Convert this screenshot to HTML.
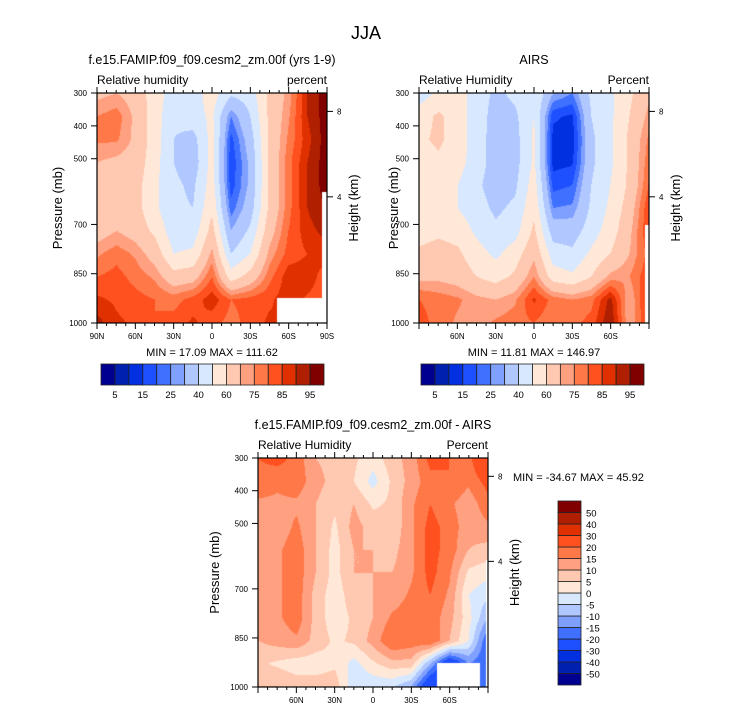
<!DOCTYPE html>
<html><head><meta charset="utf-8">
<style>
body{margin:0;background:#fff;}
#wrap{position:relative;width:733px;height:712px;overflow:hidden;font-family:"Liberation Sans",sans-serif;}
canvas{position:absolute;}
svg{position:absolute;left:0;top:0;}
</style></head>
<body>
<div id="wrap">
<canvas id="c1"></canvas>
<canvas id="c2"></canvas>
<canvas id="c3"></canvas>
<svg id="ov" width="733" height="712"></svg>
</div>
<script>
const palette=['#000090','#0020b0','#0030e0','#1e50ff','#4070ff','#80a0ff','#b0c8ff','#d8e8ff','#ffe8d8','#ffc8b0','#ffa080','#ff7848','#ff5020','#e03000','#b02000','#800000'];
const rhLevels=[5,10,15,20,25,30,40,50,60,70,75,80,85,90,95];
const diffLevels=[-50,-40,-30,-20,-15,-10,-5,0,5,10,15,20,30,40,50];
const rhLabels=['5','15','25','40','60','75','85','95'];
const diffLabels=['-50','-40','-30','-20','-15','-10','-5','0','5','10','15','20','30','40','50'];
const latTicks=[90,60,30,0,-30,-60,-90];
const latLabels1=['90N','60N','30N','0','30S','60S','90S'];
const latLabels2=['','60N','30N','0','30S','60S',''];
const presTicks=[300,400,500,700,850,1000];
const heightTicks=[8,4];
const heightPres=[356,616];
// rows: 300mb (top) -> 1000mb (bottom); cols: 90N -> 90S every 15 deg
const modelRH=[
[68,70,66,55,45,45,55,42,45,62,72,90,98],
[75,78,68,55,42,46,52,25,40,62,74,90,98],
[76,76,68,55,40,36,54,18,35,62,76,88,98],
[70,68,66,54,40,34,54,16,32,62,78,90,98],
[66,66,64,52,42,38,55,17,32,62,78,90,98],
[64,66,64,52,42,40,58,22,35,62,78,90,96],
[66,70,66,58,44,44,64,30,42,66,80,88,92],
[74,78,74,66,50,52,72,40,50,72,82,85,88],
[80,82,78,74,64,66,80,55,64,78,88,88,82],
[86,84,82,80,78,82,88,80,82,84,88,84,82],
[92,86,84,80,82,86,82,78,82,86,84,82,82]];
const airsRH=[
[45,52,55,45,38,42,50,30,25,42,48,58,68],
[55,62,55,45,36,38,50,16,14,40,48,60,72],
[58,62,55,45,35,36,52,13,12,38,48,62,76],
[55,58,54,45,35,36,52,13,14,38,48,62,78],
[52,54,50,42,35,38,55,18,20,40,50,62,80],
[52,54,50,44,38,42,58,25,26,42,52,65,84],
[56,58,56,48,42,46,62,35,35,45,55,68,85],
[62,64,62,54,48,55,68,45,42,52,60,70,82],
[68,68,66,60,56,62,75,55,52,60,72,75,84],
[80,78,76,72,70,74,86,78,75,78,92,70,88],
[82,78,74,72,76,78,80,76,78,82,95,70,86]];
const diffRH=[
[20,22,18,10,8,6,2,8,12,22,20,18,30],
[18,16,18,12,8,5,-2,6,12,18,20,16,22],
[14,14,14,10,6,10,4,6,14,20,16,12,18],
[12,12,16,10,4,12,8,6,14,22,18,12,14],
[10,14,18,10,3,10,10,8,14,22,18,10,8],
[10,14,18,10,3,10,10,10,14,22,16,4,2],
[10,14,18,8,2,8,10,12,16,20,14,0,-4],
[10,14,18,8,2,6,10,16,18,18,12,2,-10],
[10,12,14,8,4,6,12,20,18,20,10,0,-20],
[6,4,2,2,4,-2,4,8,8,-10,-30,-15,-20],
[10,10,8,8,8,-4,-4,-4,-10,-30,-30,-20,-20]];

const NS='http://www.w3.org/2000/svg';
const ov=document.getElementById('ov');
function el(tag,attrs,name,txt){const e=document.createElementNS(NS,tag);for(const k in attrs)e.setAttribute(k,attrs[k]);


if(txt!==undefined)e.textContent=txt;ov.appendChild(e);return e;}
function levelIndex(v,lev){let i=0;while(i<lev.length&&v>=lev[i])i++;return i;}
function hexRGB(h){return [parseInt(h.substr(1,2),16),parseInt(h.substr(3,2),16),parseInt(h.substr(5,2),16)];}
const pal=palette.map(hexRGB);

function panel(id,P,grid,lev,missing){
  const cv=document.getElementById(id);cv.width=P.w;cv.height=P.h;cv.style.left=P.x+'px';cv.style.top=P.y+'px';
  const ctx=cv.getContext('2d');const img=ctx.createImageData(P.w,P.h);
  const nr=grid.length,nc=grid[0].length;
  for(let py=0;py<P.h;py++){const v=py/(P.h-1)*(nr-1);const r0=Math.min(Math.floor(v),nr-2),fv=v-r0;
    for(let px=0;px<P.w;px++){const u=px/(P.w-1)*(nc-1);const c0=Math.min(Math.floor(u),nc-2),fu=u-c0;
      const val=grid[r0][c0]*(1-fu)*(1-fv)+grid[r0][c0+1]*fu*(1-fv)+grid[r0+1][c0]*(1-fu)*fv+grid[r0+1][c0+1]*fu*fv;
      const col=pal[levelIndex(val,lev)];const k=(py*P.w+px)*4;img.data[k]=col[0];img.data[k+1]=col[1];img.data[k+2]=col[2];img.data[k+3]=255;}}
  ctx.putImageData(img,0,0);
  ctx.fillStyle='#fff';missing.forEach(m=>ctx.fillRect(m[0]-P.x,m[1]-P.y,m[2],m[3]));
}
function axes(P,labels,pfx,ylabX,hlabX){
  const xs=lat=>P.x+(90-lat)/180*P.w;
  const ys=p=>P.y+(p-300)/700*P.h;
  el('rect',{x:P.x,y:P.y,width:P.w,height:P.h,fill:'none',stroke:'#000','stroke-width':1.2},pfx+'-plot-frame');
  for(let lat=90;lat>=-90;lat-=7.5){const maj=lat%30===0;const x=xs(lat);
    el('line',{x1:x,x2:x,y1:P.y,y2:P.y-(maj?6:3),stroke:'#000'},pfx+'-top-tick');
    el('line',{x1:x,x2:x,y1:P.y+P.h,y2:P.y+P.h+(maj?6:3),stroke:'#000'},pfx+'-bottom-tick');}
  latTicks.forEach((lat,i)=>{if(labels[i])el('text',{x:xs(lat),y:P.y+P.h+16,'font-size':8,'text-anchor':'middle'},pfx+'-x-tick-label',labels[i]);});
  presTicks.forEach(p=>{const y=ys(p);el('line',{x1:P.x-6,x2:P.x,y1:y,y2:y,stroke:'#000'},pfx+'-y-tick');
    el('text',{x:P.x-10,y:y+3,'font-size':8,'text-anchor':'end'},pfx+'-y-tick-label',p);});
  heightTicks.forEach((h,i)=>{const y=ys(heightPres[i]);el('line',{x1:P.x+P.w,x2:P.x+P.w+6,y1:y,y2:y,stroke:'#000'},pfx+'-height-tick');
    el('text',{x:P.x+P.w+10,y:y+3,'font-size':8},pfx+'-height-tick-label',h);});
  const cy=P.y+P.h/2;
  el('text',{x:ylabX,y:cy,'font-size':13,'text-anchor':'middle',transform:`rotate(-90 ${ylabX} ${cy})`},pfx+'-y-axis-title','Pressure (mb)');
  el('text',{x:hlabX,y:cy,'font-size':13,'text-anchor':'middle',transform:`rotate(-90 ${hlabX} ${cy})`},pfx+'-height-axis-title','Height (km)');
}
const P1={x:97,y:93,w:230,h:230},P2={x:419,y:93,w:230,h:230},P3={x:258,y:458,w:230,h:229};
panel('c1',P1,modelRH,rhLevels,[[277,298,50,25],[322,192,5,131]]);
panel('c2',P2,airsRH,rhLevels,[[645,225,4,98]]);
panel('c3',P3,diffRH,diffLevels,[[437,663,43,24],[486,560,2,127]]);
axes(P1,latLabels1,'model',62,358);
axes(P2,latLabels2,'airs',398,680);
axes(P3,latLabels2,'diff',219,519);

el('text',{x:366,y:39,'font-size':18,'text-anchor':'middle'},'figure-title','JJA');
el('text',{x:212,y:64,'font-size':12.5,'text-anchor':'middle'},'model-panel-title','f.e15.FAMIP.f09_f09.cesm2_zm.00f (yrs 1-9)');
el('text',{x:97,y:84,'font-size':12},'model-variable-label','Relative humidity');
el('text',{x:327,y:84,'font-size':12,'text-anchor':'end'},'model-units-label','percent');
el('text',{x:534,y:64,'font-size':12.5,'text-anchor':'middle'},'airs-panel-title','AIRS');
el('text',{x:419,y:84,'font-size':12},'airs-variable-label','Relative Humidity');
el('text',{x:649,y:84,'font-size':12,'text-anchor':'end'},'airs-units-label','Percent');
el('text',{x:373,y:429,'font-size':12.5,'text-anchor':'middle'},'diff-panel-title','f.e15.FAMIP.f09_f09.cesm2_zm.00f - AIRS');
el('text',{x:258,y:449,'font-size':12},'diff-variable-label','Relative Humidity');
el('text',{x:488,y:449,'font-size':12,'text-anchor':'end'},'diff-units-label','Percent');
el('text',{x:212,y:356,'font-size':11,'text-anchor':'middle'},'model-min-max','MIN =  17.09  MAX = 111.62');
el('text',{x:534,y:356,'font-size':11,'text-anchor':'middle'},'airs-min-max','MIN =  11.81  MAX = 146.97');
el('text',{x:513,y:481,'font-size':11},'diff-min-max','MIN = -34.67  MAX =  45.92');

function hbar(x0,pfx){const w=(324-101)/16;
  palette.forEach((c,i)=>el('rect',{x:x0+i*w,y:364,width:w,height:21,fill:c,stroke:'#222','stroke-width':0.8},pfx+'-colorbar-box'));
  rhLabels.forEach((t,j)=>el('text',{x:x0+(2*j+1)*w,y:398,'font-size':9.5,'text-anchor':'middle'},pfx+'-colorbar-label',t));}
hbar(101,'model');hbar(421,'airs');
const vh=(685-501)/16;
palette.forEach((c,i)=>el('rect',{x:558,y:685-(i+1)*vh,width:23,height:vh,fill:c,stroke:'#222','stroke-width':0.8},'diff-colorbar-box'));
diffLabels.forEach((t,k)=>el('text',{x:586,y:685-(k+1)*vh+4,'font-size':9.5},'diff-colorbar-label',t));
</script>
</body></html>
